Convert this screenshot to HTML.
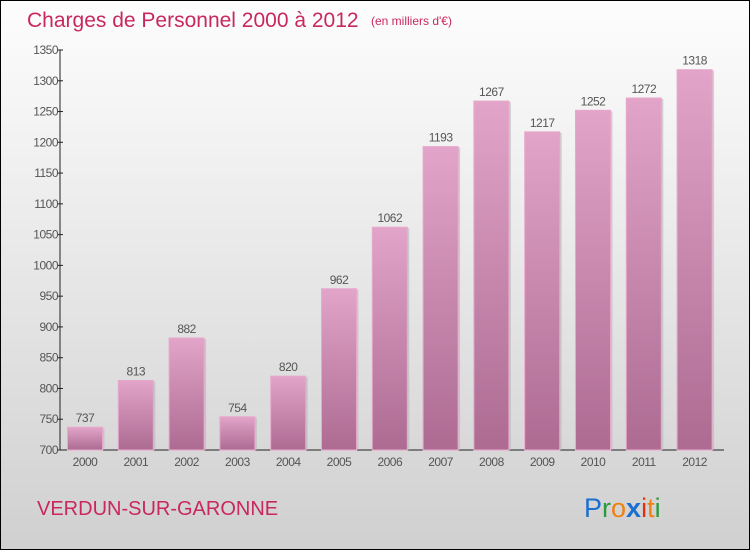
<!DOCTYPE html>
<html><head><meta charset="utf-8"><style>
body{margin:0}
#c{position:relative;width:748px;height:548px;border:1px solid #000;background:linear-gradient(#fdfdfd,#f0f0f0 30%,#d0d0d0);font-family:"Liberation Sans",sans-serif;overflow:hidden}
</style></head><body>
<div id="c">
<svg width="748" height="548" id="svg">
<defs>
<linearGradient id="bg" x1="0" y1="0" x2="0" y2="1"><stop offset="0" stop-color="#e2a4c9"/><stop offset="1" stop-color="#ad6b92"/></linearGradient>
</defs>
<text x="26" y="26" font-size="21" fill="#c8285f">Charges de Personnel 2000 à 2012</text>
<text x="370" y="24" font-size="12" fill="#c8285f">(en milliers d'€)</text>
<text x="36" y="514" font-size="20" fill="#c8285f">VERDUN-SUR-GARONNE</text>
<g font-size="27" font-family="Liberation Sans, sans-serif">
<text x="583" y="516"><tspan fill="#1a6fd0">P</tspan><tspan fill="#2a9a3a">r</tspan><tspan fill="#f08010">o</tspan><tspan fill="#1a6fd0" font-weight="bold">x</tspan><tspan fill="#e03010">i</tspan><tspan fill="#f08010">t</tspan><tspan fill="#2a9a3a">i</tspan></text>
</g>
<g id="plot"></g>
</svg>
</div>
<script>
const categories=["2000","2001","2002","2003","2004","2005","2006","2007","2008","2009","2010","2011","2012"];
const values=[737,813,882,754,820,962,1062,1193,1267,1217,1252,1272,1318];
const yTicks=[700,750,800,850,900,950,1000,1050,1100,1150,1200,1250,1300,1350];
const NS="http://www.w3.org/2000/svg";
const g=document.getElementById('plot');
const y0=449,y1=49,vmin=700,vmax=1350,axX=59;
const y=v=>y0-(v-vmin)/(vmax-vmin)*(y0-y1);
const x=i=>84+i*50.8;
function mk(t,a,p){const e=document.createElementNS(NS,t);for(const k in a)e.setAttribute(k,a[k]);(p||g).appendChild(e);return e;}
let ax=mk('line',{x1:axX,y1:y1,x2:axX,y2:y0,stroke:'#222','stroke-width':1});


let bx=mk('line',{x1:axX,y1:y0,x2:723,y2:y0,stroke:'#222','stroke-width':1});


yTicks.forEach(v=>{
 const tk=mk('line',{x1:axX-2,y1:y(v),x2:axX+3,y2:y(v),stroke:'#222'});
 
 
 const t=mk('text',{x:axX-2,y:y(v)+4,'font-size':12,fill:'#555','text-anchor':'end','letter-spacing':'-0.5'});
 t.textContent=v;
 
 
});
values.forEach((v,i)=>{
 const cx=x(i),w=35;
 const sh=mk('rect',{x:cx-w/2+2,y:y(v)+1,width:w,height:y0-y(v)-1,fill:'#b8b8b8',opacity:0.6});
 
 
 const r=mk('rect',{x:cx-w/2,y:y(v),width:w,height:y0-y(v),fill:'url(#bg)',stroke:'#e8a8cc','stroke-width':1});
 
 
 const t=mk('text',{x:cx,y:y(v)-5,'font-size':12,fill:'#555','text-anchor':'middle','letter-spacing':'-0.5'});
 t.textContent=v;
 
 
 const c=mk('text',{x:cx,y:465,'font-size':12,fill:'#555','text-anchor':'middle','letter-spacing':'-0.5'});
 c.textContent=categories[i];
 
 
});
</script>
</body></html>
